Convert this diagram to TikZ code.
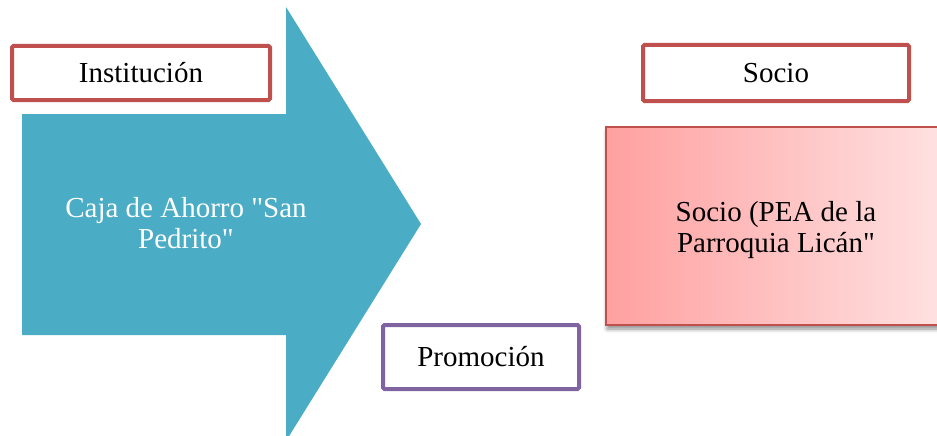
\documentclass[tikz,border=0pt]{standalone}
\usepackage{fontspec}
\setmainfont{Liberation Serif}
\usetikzlibrary{shadows.blur}
\definecolor{arrowblue}{HTML}{4BACC6}
\definecolor{boxred}{HTML}{C0504D}
\definecolor{boxpurple}{HTML}{8064A2}
\definecolor{pinkleft}{RGB}{255,160,160}
\definecolor{pinkright}{RGB}{255,226,226}

\begin{document}
\begin{tikzpicture}[x=1pt,y=-1pt]
  \tikzset{every node/.style={font=\fontsize{29}{31}\selectfont, align=center, inner sep=0pt}}
  \tikzset{labelbox/.style={draw, line width=4pt, fill=white, rounded corners=1.5pt}}
  \useasboundingbox (0,0) rectangle (937,436);
  % big arrow
  \fill [arrowblue] (22,114) -- (286,114) -- (286,7) -- (421,224) -- (286,441) -- (286,335) -- (22,335) -- cycle;
  \node [text=white] (caja) at (186,223) {Caja de Ahorro \textquotedbl San\\Pedrito\textquotedbl};
  % labels
  \node [labelbox, draw=boxred, minimum width=258pt, minimum height=54pt] (inst) at (141,73) {Instituci\'on};
  \node [labelbox, draw=boxred, minimum width=266pt, minimum height=56pt] (socio) at (776,73) {Socio};
  \node [labelbox, draw=boxpurple, minimum width=196pt, minimum height=64pt] (promo) at (481,357) {Promoci\'on};
  % socio box
  \node [draw=boxred, line width=1.5pt, left color=pinkleft, right color=pinkright,
    minimum width=340pt, minimum height=198pt,
    blur shadow={shadow xshift=1pt, shadow yshift=-4pt, shadow blur radius=4pt, shadow opacity=45}] (pea) at (776,226) {};
  \node (peatext) at (776,230) {Socio (PEA de la\\Parroquia Lic\'an\textquotedbl};
\end{tikzpicture}
\end{document}
